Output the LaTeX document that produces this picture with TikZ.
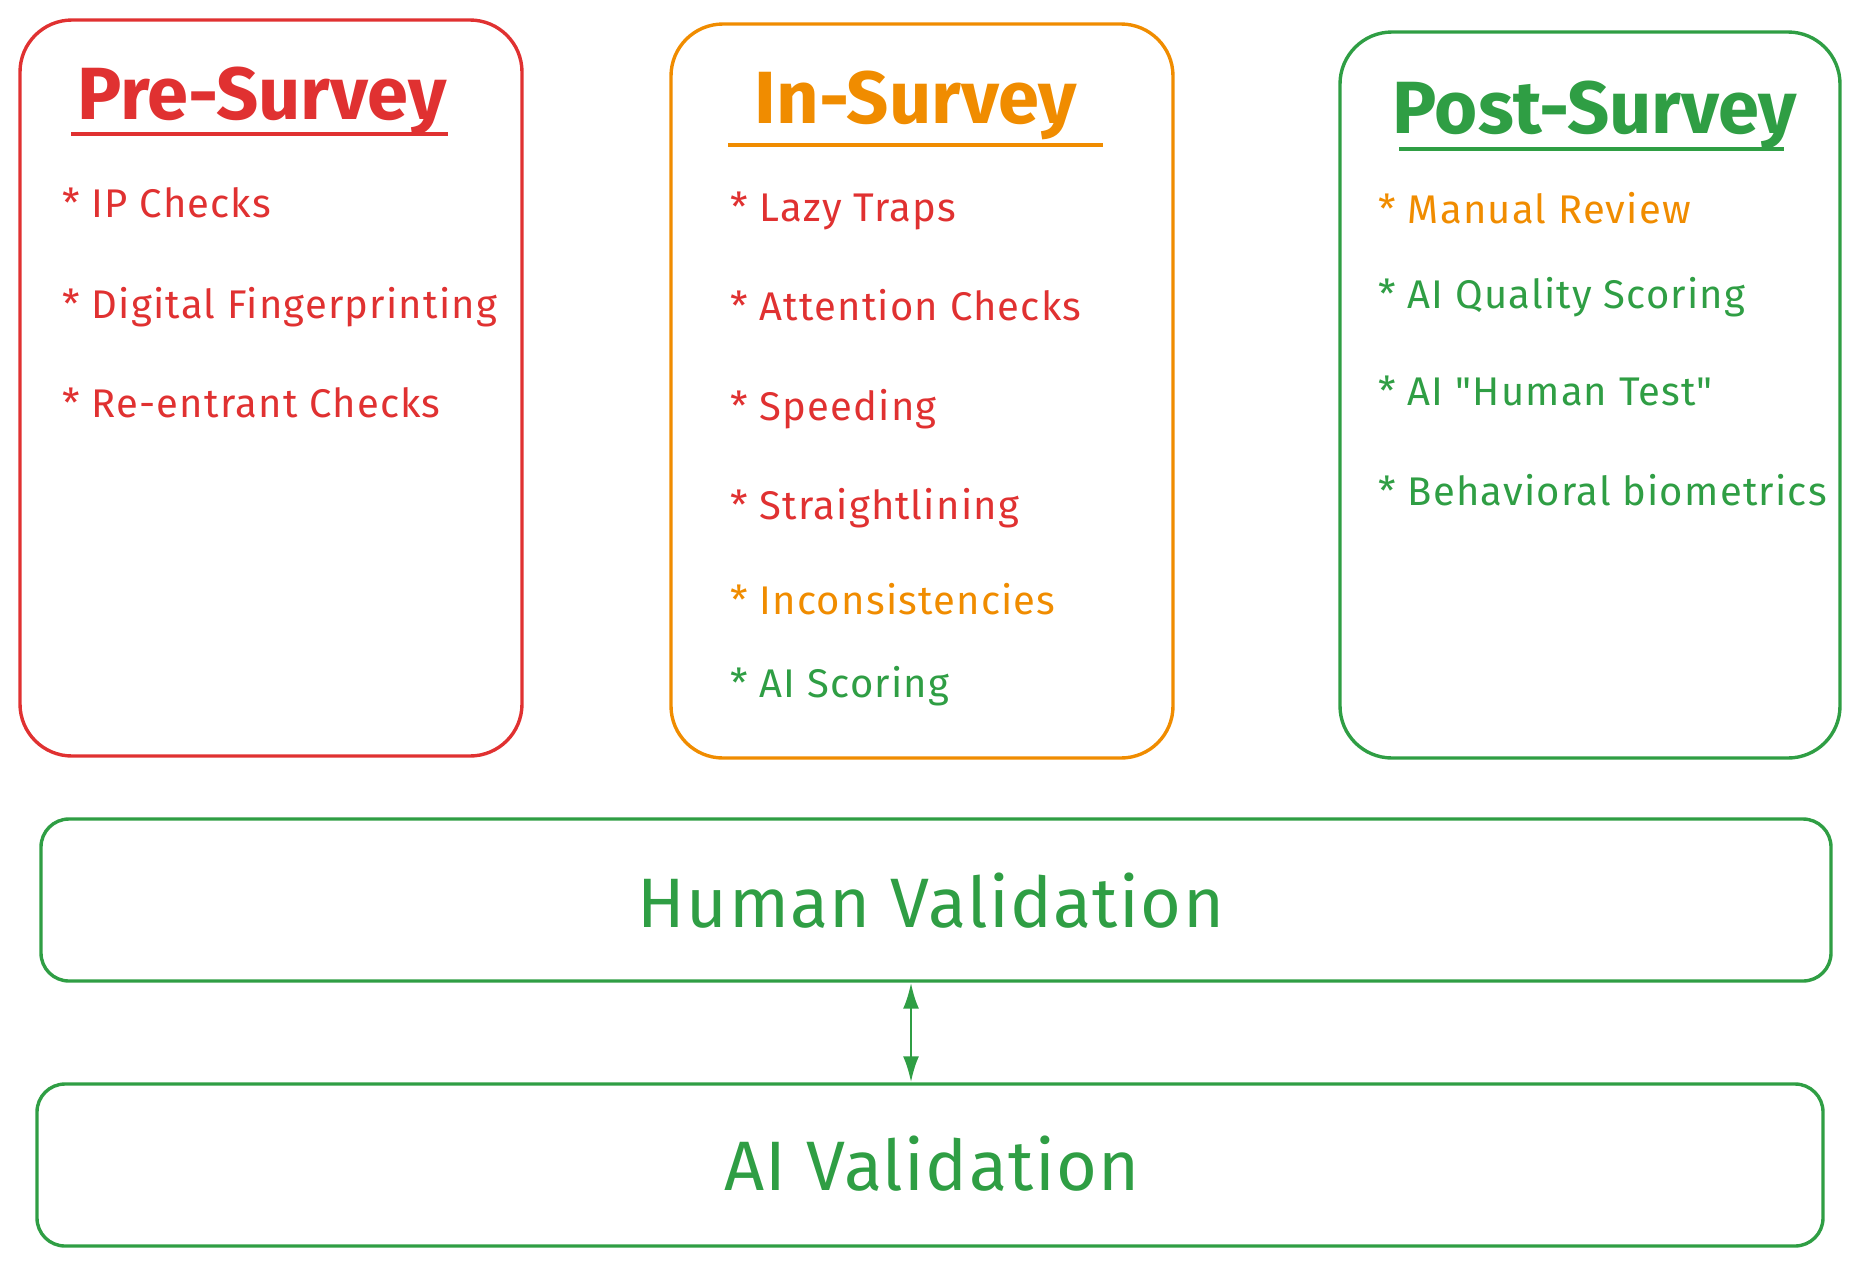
\documentclass[tikz,border=0pt]{standalone}
\usepackage{fontspec}
\setmainfont{Fira Sans}[Ligatures=TeXOff]
\usetikzlibrary{arrows.meta}
\definecolor{xred}{HTML}{E03131}
\definecolor{xorange}{HTML}{F08C00}
\definecolor{xgreen}{HTML}{2F9E44}

\begin{document}
\begin{tikzpicture}[x=0.5pt,y=-0.5pt,
        box/.style={draw=#1, line width=1.7pt, inner sep=0pt},
        head/.style={text=#1, anchor=base, font=\fontsize{37}{40}\selectfont\bfseries},
        item/.style={text=#1, anchor=base west, inner sep=0pt, font=\fontsize{20}{24}\selectfont\addfontfeatures{LetterSpace=3}},
        valid/.style={text=xgreen, font=\fontsize{35}{40}\selectfont\addfontfeatures{LetterSpace=2}}]
        \useasboundingbox (0,0) rectangle (1859,1265);
        % stages
        \node[box=xred, rounded corners=26pt, minimum width=251pt, minimum height=368pt] (pre) at (271,388) {};
        \node[box=xorange, rounded corners=26pt, minimum width=251pt, minimum height=367pt] (in) at (922,391) {};
        \node[box=xgreen, rounded corners=26pt, minimum width=250pt, minimum height=363pt] (post) at (1590,395) {};
        \node[head=xred] (pretitle) at (262,119) {Pre-Survey};
        \node[head=xorange] (intitle) at (916,123) {In-Survey};
        \node[head=xgreen] (posttitle) at (1595,133) {Post-Survey};
        \draw[xred, line width=1.7pt] (71,134) -- (448,134);
        \draw[xorange, line width=1.7pt] (728,145) -- (1103,145);
        \draw[xgreen, line width=1.7pt] (1399,149) -- (1784,149);
        % pre-survey checks
        \node[item=xred] (ip) at (62,217) {* IP Checks};
        \node[item=xred] (finger) at (62,318) {* Digital Fingerprinting};
        \node[item=xred] (reent) at (62,417) {* Re-entrant Checks};
        % in-survey checks
        \node[item=xred] (lazy) at (730,221) {* Lazy Traps};
        \node[item=xred] (attn) at (730,320) {* Attention Checks};
        \node[item=xred] (speed) at (730,420) {* Speeding};
        \node[item=xred] (straight) at (730,519) {* Straightlining};
        \node[item=xorange] (incons) at (730,614) {* Inconsistencies};
        \node[item=xgreen] (aiscore) at (730,697) {* AI Scoring};
        % post-survey checks
        \node[item=xorange] (manual) at (1378,223) {* Manual Review};
        \node[item=xgreen] (quality) at (1378,308) {* AI Quality Scoring};
        \node[item=xgreen] (humtest) at (1378,405) {* AI "Human Test"};
        \node[item=xgreen] (behav) at (1378,505) {* Behavioral biometrics};
        % validation layers
        \node[box=xgreen, rounded corners=14pt, minimum width=895pt, minimum height=81pt] (human) at (936,900) {};
        \node[box=xgreen, rounded corners=14pt, minimum width=893pt, minimum height=81pt] (ai) at (930,1165) {};
        \node[valid] (humanlbl) at (931,901) {Human Validation};
        \node[valid] (ailbl) at (932,1164) {AI Validation};
        \coordinate (link) at (911,0);
        \draw[xgreen, line width=1.3pt, {Latex[length=13pt,width=8pt]}-{Latex[length=13pt,width=8pt]}] (human.south -| link) -- (ai.north -| link);
\end{tikzpicture}
\end{document}
